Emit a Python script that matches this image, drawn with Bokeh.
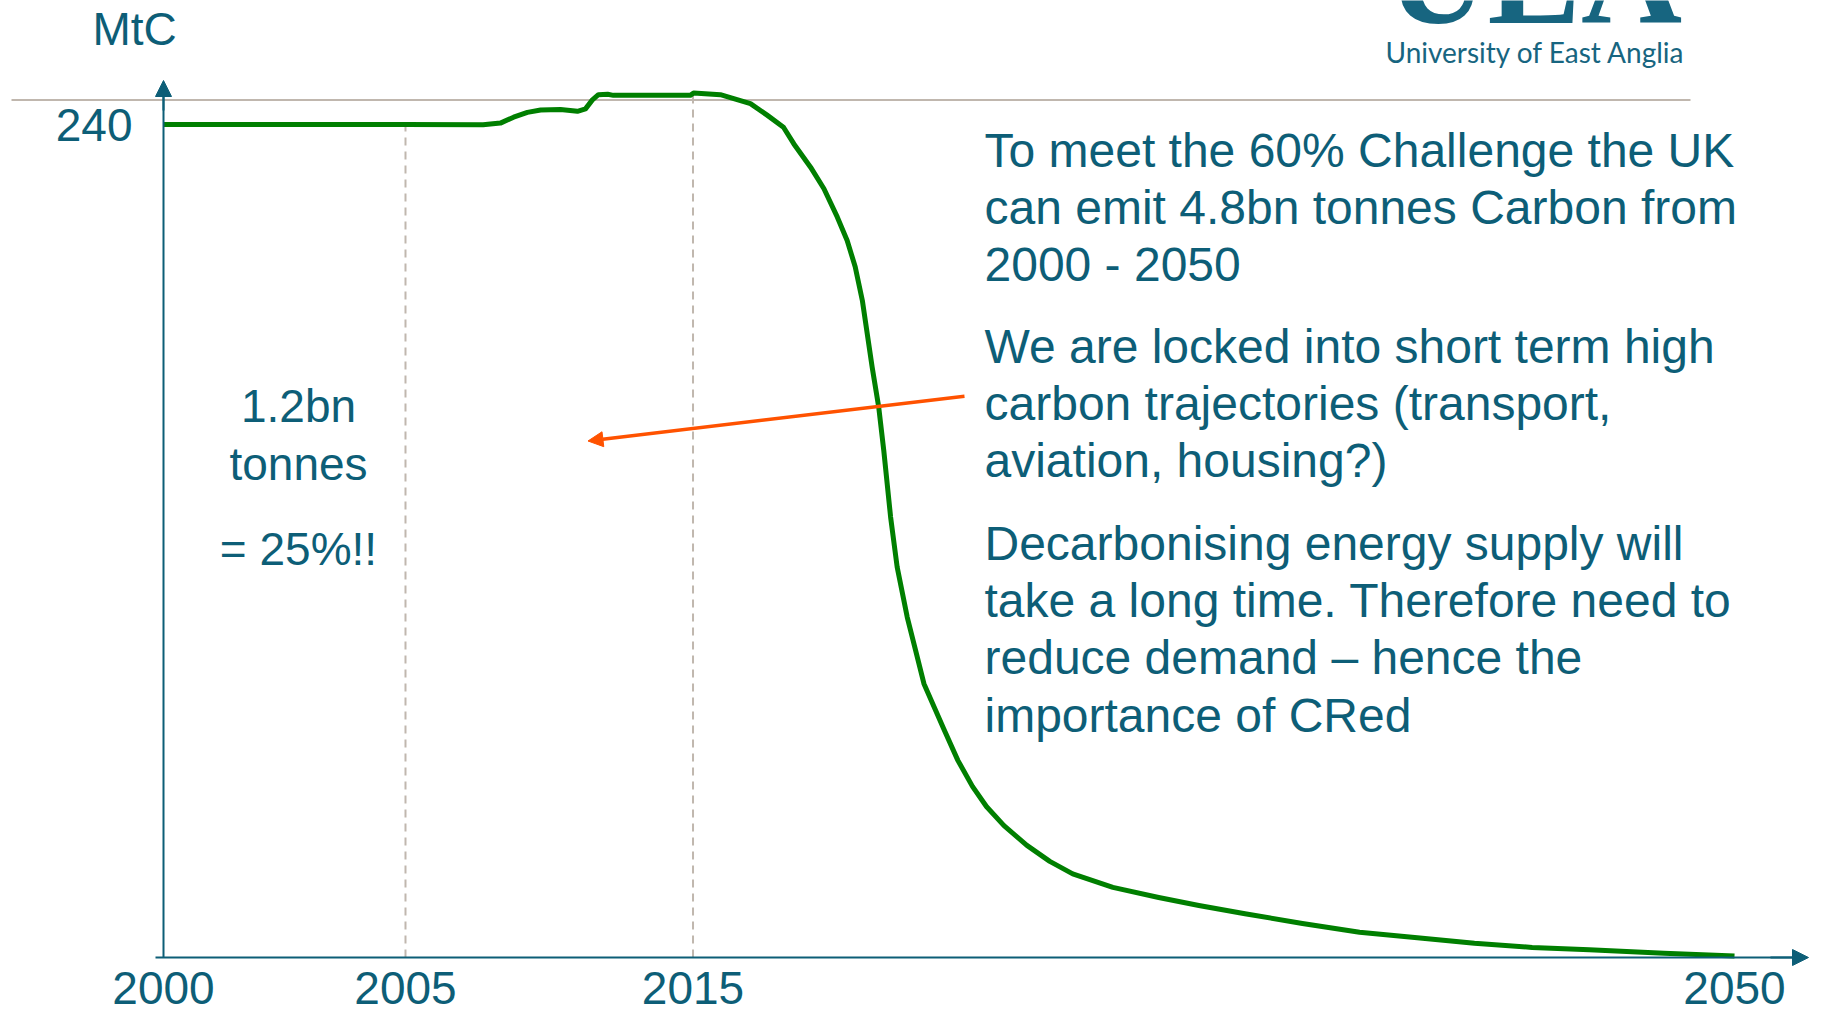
import numpy as np
from bokeh.plotting import figure
from bokeh.models import Range1d, FixedTicker, Arrow, NormalHead
from bokeh.core.properties import value
from bokeh.embed import file_html
from bokeh.resources import INLINE

# ---------------- data ----------------
years = [2000, 2005, 2007.7, 2008.3, 2008.76, 2009.24, 2009.7, 2010.39, 2010.98, 2011.26,
         2011.5, 2011.71, 2012.03, 2012.23, 2014.91, 2015.02, 2015.92, 2016.93, 2017.49,
         2018.04, 2018.39, 2018.95, 2019.4, 2019.85, 2020.18, 2020.45, 2020.69, 2021.02,
         2021.24, 2021.41, 2021.64, 2021.86, 2022.2, 2022.48, 2022.76, 2023.42, 2023.9,
         2024.39, 2024.86, 2025.45, 2026.22, 2026.99, 2027.76, 2029.11, 2030.65, 2032.0,
         2033.55, 2035.48, 2037.4, 2039.34, 2041.26, 2043.2, 2045.12, 2047.63, 2050]
mtc = [240.0, 240.0, 239.9, 240.4, 242.1, 243.5, 244.2, 244.3, 243.8, 244.5,
       247.1, 248.6, 248.7, 248.4, 248.4, 249.1, 248.6, 246.0, 242.7,
       239.2, 234.4, 227.7, 221.5, 213.3, 206.6, 199.0, 189.3, 170.1,
       158.6, 146.1, 126.9, 112.5, 98.0, 88.5, 78.9, 66.0, 56.8,
       49.3, 43.5, 38.0, 32.3, 27.7, 24.1, 20.2, 17.3, 15.0,
       12.6, 9.8, 7.3, 5.7, 4.1, 2.9, 2.2, 1.2, 0.4]

tick_years = [2000, 2005, 2015, 2050]
tick_labels = ["2000", "2005", "2015", "2050"]
# schematic (non-linear) horizontal positions of the labelled years
tick_pos = [0.0, 7.702, 16.853, 50.0]
y_ticks = [240]
divider_years = [2005, 2015]

note_1 = ["To meet the 60% Challenge the UK", "can emit 4.8bn tonnes Carbon from", "2000 - 2050"]
note_2 = ["We are locked into short term high", "carbon trajectories (transport,", "aviation, housing?)"]
note_3 = ["Decarbonising energy supply will", "take a long time. Therefore need to",
          "reduce demand \u2013 hence the", "importance of CRed"]
note_left = ["1.2bn", "tonnes", "= 25%!!"]

# ---------------- layout helpers (screen pixel -> data) ----------------
W, H = 1809, 1017
PX_PER_U = 1571 / 50.0
PX_PER_V = 833 / 240.0
OX, OY = 163, 957


def X(px):
    return (px - OX) / PX_PER_U


def Y(py):
    return (OY - py) / PX_PER_V


def pos(yr):
    return np.interp(yr, tick_years, tick_pos)


TEAL = "#0d5e77"
LOGO = "#176580"
GREEN = "#007f00"
ORANGE = "#ff5200"
GREY = "#c0b7ae"
FONT = "Liberation Sans"

p = figure(width=W, height=H, output_backend="svg", toolbar_location=None,
           x_range=Range1d(X(0), X(W)), y_range=Range1d(Y(H), Y(0)),
           min_border_left=0, min_border_right=0, min_border_top=0, min_border_bottom=0)
p.grid.visible = False
p.outline_line_color = None
p.background_fill_color = "white"
p.border_fill_color = "white"

# axes
xa = p.xaxis[0]
xa.fixed_location = 0
xa.ticker = FixedTicker(ticks=tick_pos)
xa.major_label_overrides = {tp: lab for tp, lab in zip(tick_pos, tick_labels)}
xa.bounds = (X(155), X(1800))
xa.major_tick_in = 0
xa.major_tick_out = 0
xa.minor_tick_in = 0
xa.minor_tick_out = 0
xa.axis_line_color = TEAL
xa.axis_line_width = 2
xa.major_label_standoff = 14
xa.major_label_text_font = FONT
xa.major_label_text_font_size = "46px"
xa.major_label_text_color = TEAL

ya = p.yaxis[0]
ya.fixed_location = 0
ya.ticker = FixedTicker(ticks=y_ticks)
ya.bounds = (0, Y(92))
ya.major_tick_in = 0
ya.major_tick_out = 0
ya.minor_tick_in = 0
ya.minor_tick_out = 0
ya.axis_line_color = TEAL
ya.axis_line_width = 2
ya.major_label_standoff = 31
ya.major_label_text_font = FONT
ya.major_label_text_font_size = "46px"
ya.major_label_text_color = TEAL

# axis arrow heads
p.add_layout(Arrow(end=NormalHead(size=16, fill_color=TEAL, line_color=TEAL),
                   x_start=0, y_start=Y(110), x_end=0, y_end=Y(80),
                   line_color=TEAL, line_width=2))
p.add_layout(Arrow(end=NormalHead(size=16, fill_color=TEAL, line_color=TEAL),
                   x_start=X(1770), y_start=0, x_end=X(1808), y_end=0,
                   line_color=TEAL, line_width=2))

# header rule
p.segment(x0=[X(11)], y0=[Y(99.5)], x1=[X(1690)], y1=[Y(99.5)], line_color=GREY, line_width=2)

# dashed dividers up to the curve
dx = pos(np.array(divider_years, dtype=float))
dtop = np.interp(divider_years, years, mtc)
p.segment(x0=dx, y0=[0] * len(dx), x1=dx, y1=dtop, line_color=GREY, line_width=2, line_dash="8 6")

# emissions trajectory
p.line(pos(np.array(years, dtype=float)), mtc, line_color=GREEN, line_width=5, line_join="round")

# orange arrow
p.add_layout(Arrow(end=NormalHead(size=15, fill_color=ORANGE, line_color=ORANGE),
                   x_start=X(964), y_start=Y(395.7), x_end=X(587.5), y_end=Y(440.5),
                   line_color=ORANGE, line_width=3.5))


def text_block(lines, px, baselines, size, align="left", font=FONT, color=TEAL,
               style="normal", cap_half=0.358):
    # anchor at the middle of the capitals (baseline - half the cap height)
    mids = [Y(b - cap_half * size) for b in baselines]
    p.text(x=[X(px)] * len(lines), y=mids, text=lines,
           text_font=value(font), text_font_size=value(f"{size}px"), text_color=color,
           text_align=align, text_baseline="alphabetic", text_font_style=style)


text_block(note_1, 984, [167, 224, 281], 48)
text_block(note_2, 984, [363, 420, 477], 48)
text_block(note_3, 984, [560, 617, 674, 732], 48)
text_block(note_left, 298, [422, 480, 565], 46, align="center")
text_block(["MtC"], 92, [45], 46)

# logo (its top is cut by the page edge, as in the original slide)
text_block(["UEA"], 1386, [21.7], 140, font="Liberation Serif", color=LOGO, style="bold",
           cap_half=0.331)
text_block(["University of East Anglia"], 1385, [61.5], 28, font="Lato", color=LOGO,
           cap_half=0.36)

open("out.html", "w").write(file_html(p, INLINE))
